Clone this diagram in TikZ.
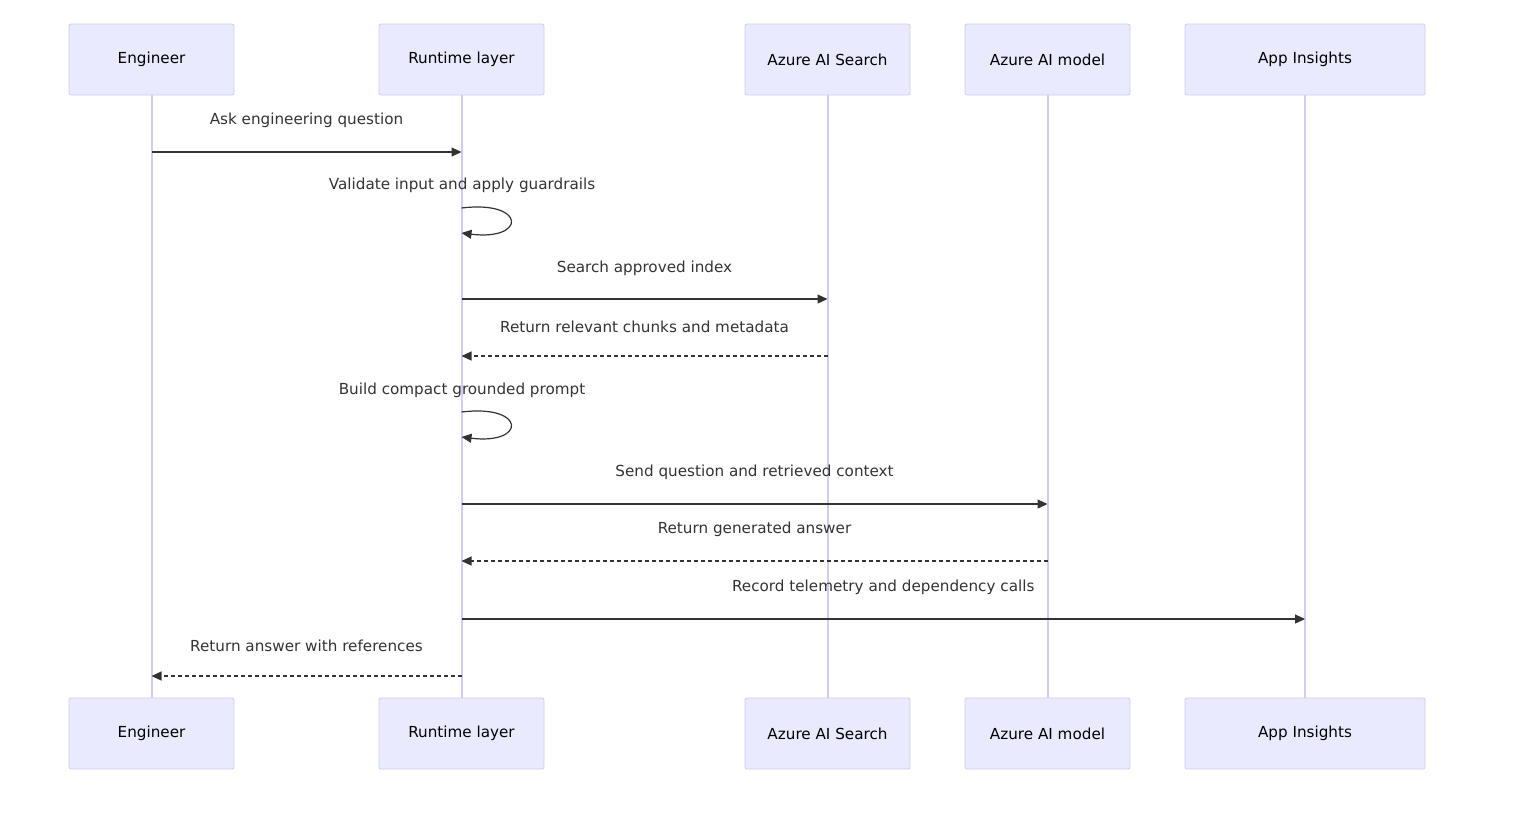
\documentclass[tikz,border=0pt]{standalone}
\usepackage{fontspec}
\setmainfont{DejaVu Sans}
\usetikzlibrary{arrows.meta}
\definecolor{boxfill}{HTML}{EAEAFF}
\definecolor{boxline}{HTML}{CCCCEE}
\definecolor{life}{HTML}{D4CCF0}
\definecolor{ink}{HTML}{333333}
\begin{document}
\begin{tikzpicture}[x=0.5pt,y=-0.5pt,
  actor/.style={draw=boxline,fill=boxfill,rounded corners=1pt,minimum height=35.5pt,inner sep=0pt,font=\fontsize{7.6}{9}\selectfont,text=black},
  lifeline/.style={draw=life,line width=1pt},
  msg/.style={draw=ink,line width=0.6pt,-{Triangle[length=5pt,width=4.5pt]}},
  ret/.style={msg,dash pattern=on 2pt off 1.5pt},
  lbl/.style={font=\fontsize{7.6}{9}\selectfont,text=ink,inner sep=0pt}]
\useasboundingbox (0,0) rectangle (1524,827);
\foreach \n/\x/\w/\t in {e/151.5/82.5/Engineer, r/461.5/82.5/Runtime layer, s/827.5/82.5/Azure AI Search, m/1047.5/82.5/Azure AI model, a/1305/120/App Insights / Log Analytics}{
  \node[actor,minimum width=\w pt] (\n t) at (\x,59.5) {\t};
  \node[actor,minimum width=\w pt] (\n b) at (\x,733.5) {\t};
  \draw[lifeline] (\n t.south) -- (\n b.north);
}
\foreach \n/\x in {e/151.5,r/461.5,s/827.5,m/1047.5,a/1305}{
  \foreach \k/\y in {1/152,2/208,3/233,4/299,5/356,6/412,7/437,8/504,9/561,10/619,11/676}{
    \coordinate (\n\k) at (\x,\y);
  }
}
\draw[msg] (e1) -- node[lbl,above=12pt] {Ask engineering question} (r1);
\node[lbl] at (462,185) {Validate input and apply guardrails};
\draw[msg] (r2) .. controls +(65,-8) and +(65,8) .. (r3);
\draw[msg] (r4) -- node[lbl,above=11.5pt] {Search approved index} (s4);
\draw[ret] (s5) -- node[lbl,above=11.5pt] {Return relevant chunks and metadata} (r5);
\node[lbl] at (462,390) {Build compact grounded prompt};
\draw[msg] (r6) .. controls +(65,-8) and +(65,8) .. (r7);
\draw[msg] (r8) -- node[lbl,above=12pt] {Send question and retrieved context} (m8);
\draw[ret] (m9) -- node[lbl,above=12pt] {Return generated answer} (r9);
\draw[msg] (r10) -- node[lbl,above=12pt] {Record telemetry and dependency calls} (a10);
\draw[ret] (r11) -- node[lbl,above=12pt] {Return answer with references} (e11);
\end{tikzpicture}
\end{document}
